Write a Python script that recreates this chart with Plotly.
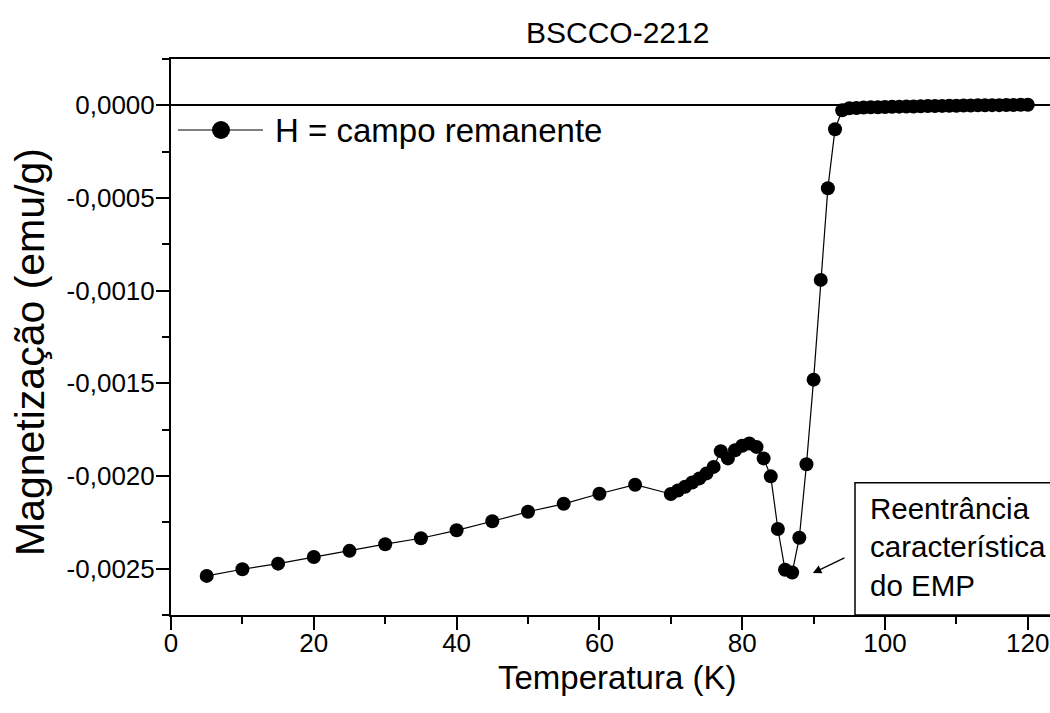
import plotly.graph_objects as go

# Remanent-field magnetization of BSCCO-2212 versus temperature
temperatura = [5, 10, 15, 20, 25, 30, 35, 40, 45, 50, 55, 60, 65,
               70, 71, 72, 73, 74, 75, 76, 77, 78, 79, 80, 81, 82, 83, 84,
               85, 86, 87, 88, 89, 90, 91, 92, 93, 94, 95, 96, 97, 98, 99,
               100, 101, 102, 103, 104, 105, 106, 107, 108, 109, 110,
               111, 112, 113, 114, 115, 116, 117, 118, 119, 120]
magnetizacao = [-0.002539, -0.002503, -0.002473, -0.002437, -0.002404,
                -0.002368, -0.002336, -0.002293, -0.002244, -0.002193,
                -0.002150, -0.002096, -0.002047,
                -0.002097, -0.002078, -0.002058, -0.002035, -0.002013,
                -0.001986, -0.001951, -0.001866, -0.001905, -0.001861,
                -0.001837, -0.001825, -0.001843, -0.001905, -0.002002,
                -0.002286, -0.002506, -0.002521, -0.002333, -0.001937,
                -0.001480, -0.000942, -0.000447, -0.000129, -0.000027,
                -0.000016, -0.000014, -0.000012, -0.000011, -0.000010,
                -0.000009, -0.000008, -0.000007, -0.000006, -0.000006,
                -0.000005, -0.000004, -0.000004, -0.000003, -0.000002,
                -0.000002, -0.000001, -0.000001, 0.000000, 0.000000,
                0.000001, 0.000001, 0.000002, 0.000002, 0.000003, 0.000003]

x_tick_vals = [0, 20, 40, 60, 80, 100, 120]
y_tick_vals = [0.0, -0.0005, -0.0010, -0.0015, -0.0020, -0.0025]
y_tick_text = ["0,0000", "-0,0005", "-0,0010", "-0,0015", "-0,0020", "-0,0025"]

serie_nome = "H = campo remanente"
titulo = "BSCCO-2212"
titulo_x = "Temperatura (K)"
titulo_y = "Magnetização (emu/g)"
nota = "Reentrância<br>característica<br>do EMP"
# point on the curve the note's arrow refers to
seta_T = 89.9
seta_M = -0.002524

FONT = "Liberation Sans, Arial, sans-serif"
W, H = 1050, 713
L, R, T, B = 171, 0, 59, 98
PW, PH = W - L - R, H - T - B


def px(xp):
    return (xp - L) / PW


def py(yp):
    return (H - B - yp) / PH


fig = go.Figure()
fig.add_trace(go.Scatter(
    x=temperatura, y=magnetizacao, mode="lines+markers",
    name=serie_nome, showlegend=False,
    line=dict(color="black", width=1.2),
    marker=dict(color="black", size=14, line=dict(width=0)),
))

axis_font = dict(family=FONT, size=26, color="black")
fig.update_xaxes(
    range=[0, PW / 7.14], tickvals=x_tick_vals,
    showline=True, linecolor="black", linewidth=2, mirror=True,
    ticks="outside", ticklen=13, tickwidth=2, tickcolor="black",
    ticklabelstandoff=-9,
    minor=dict(ticks="outside", ticklen=7, tickwidth=2, tickcolor="black",
               dtick=10, tick0=0),
    showgrid=False, zeroline=False, tickfont=axis_font,
)
fig.update_yaxes(
    range=[-0.00275, 0.00025], tickvals=y_tick_vals, ticktext=y_tick_text,
    showline=True, linecolor="black", linewidth=2, mirror=False,
    ticks="outside", ticklen=13, tickwidth=2, tickcolor="black",
    ticklabelstandoff=-4,
    minor=dict(ticks="outside", ticklen=7, tickwidth=2, tickcolor="black",
               dtick=0.00025, tick0=0),
    showgrid=False, zeroline=True, zerolinecolor="black", zerolinewidth=2,
    tickfont=axis_font,
)

shapes = [
    # note frame
    dict(type="rect", xref="paper", yref="paper",
         x0=px(855), x1=1.05, y0=0, y1=py(482.7),
         line=dict(color="black", width=1.5), fillcolor="white", layer="above"),
    # legend sample line
    dict(type="line", xref="paper", yref="paper",
         x0=px(178), x1=px(263), y0=py(130), y1=py(130),
         line=dict(color="black", width=1.2)),
    # legend sample marker
    dict(type="circle", xref="paper", yref="paper",
         xsizemode="pixel", ysizemode="pixel",
         xanchor=px(221), yanchor=py(130),
         x0=-9, x1=9, y0=-9, y1=9,
         line=dict(width=0), fillcolor="black"),
]

annotations = [
    dict(text=titulo, xref="paper", yref="paper", x=px(617), y=py(32),
         xanchor="center", yanchor="middle", showarrow=False,
         font=dict(family=FONT, size=30, color="black")),
    dict(text=titulo_x, xref="paper", yref="paper", x=px(617), y=py(677),
         xanchor="center", yanchor="middle", showarrow=False,
         font=dict(family=FONT, size=33, color="black")),
    dict(text=titulo_y, xref="paper", yref="paper", x=px(30), y=py(352),
         xanchor="center", yanchor="middle", showarrow=False, textangle=-90,
         font=dict(family=FONT, size=41, color="black")),
    dict(text=serie_nome, xref="paper", yref="paper", x=px(273), y=py(130),
         xanchor="left", yanchor="middle", showarrow=False,
         font=dict(family=FONT, size=33, color="black")),
    dict(text=nota, xref="paper", yref="paper", x=px(868), y=py(547),
         xanchor="left", yanchor="middle", align="left", showarrow=False,
         font=dict(family=FONT, size=29.5, color="black")),
    dict(text="", x=seta_T, y=seta_M, xref="x", yref="y",
         ax=33, ay=-16, axref="pixel", ayref="pixel",
         showarrow=True, arrowhead=2, arrowsize=1.3, arrowwidth=1.3,
         arrowcolor="black"),
]

fig.update_layout(
    width=W, height=H,
    margin=dict(l=L, r=R, t=T, b=B),
    paper_bgcolor="white", plot_bgcolor="white",
    font=dict(family=FONT, color="black"),
    shapes=shapes, annotations=annotations,
    showlegend=False,
)

fig.write_html("out.html")
